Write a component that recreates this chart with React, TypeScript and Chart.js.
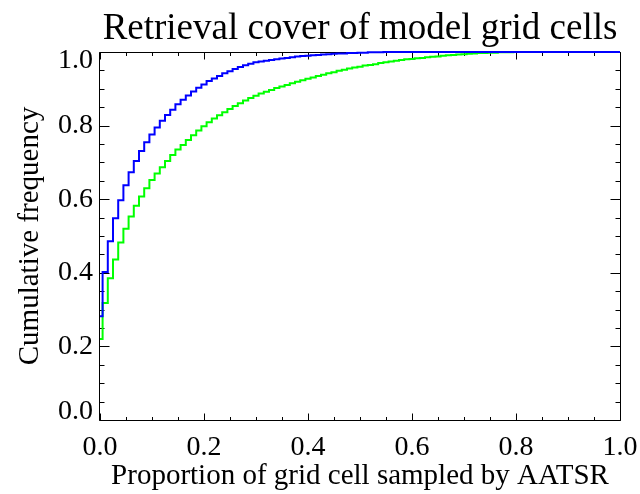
import React, { useEffect, useRef } from 'react';
import { Chart, registerables } from 'chart.js';

Chart.register(...registerables);

const chartTitle = 'Retrieval cover of model grid cells';
const xAxisTitle = 'Proportion of grid cell sampled by AATSR';
const yAxisTitle = 'Cumulative frequency';

// Histogram bins: proportion sampled, 0.00 .. 1.00 in steps of 0.01
const binWidth = 0.01;

// Cumulative frequency, blue series (one value per bin)
const blueCumulative = [
  0.282, 0.402, 0.486, 0.548, 0.597, 0.638, 0.673, 0.704, 0.731, 0.755,
  0.776, 0.795, 0.813, 0.829, 0.843, 0.858, 0.870, 0.882, 0.893, 0.903,
  0.912, 0.921, 0.928, 0.935, 0.942, 0.948, 0.954, 0.959, 0.964, 0.968,
  0.972, 0.974, 0.976, 0.978, 0.980, 0.982, 0.984, 0.986, 0.988, 0.989,
  0.990, 0.991, 0.992, 0.993, 0.994, 0.995, 0.996, 0.996, 0.997, 0.997,
  0.998, 0.998, 0.999, 0.999, 0.999, 1, 1, 1, 1, 1,
  1, 1, 1, 1, 1, 1, 1, 1, 1, 1,
  1, 1, 1, 1, 1, 1, 1, 1, 1, 1,
  1, 1, 1, 1, 1, 1, 1, 1, 1, 1,
  1, 1, 1, 1, 1, 1, 1, 1, 1, 1,
  1,
];

// Cumulative frequency, green series (one value per bin)
const greenCumulative = [
  0.220, 0.318, 0.385, 0.436, 0.482, 0.520, 0.553, 0.582, 0.607, 0.630,
  0.652, 0.670, 0.687, 0.704, 0.720, 0.735, 0.747, 0.761, 0.774, 0.787,
  0.798, 0.809, 0.819, 0.828, 0.836, 0.845, 0.853, 0.861, 0.868, 0.875,
  0.881, 0.887, 0.892, 0.897, 0.902, 0.906, 0.910, 0.915, 0.919, 0.923,
  0.927, 0.931, 0.935, 0.938, 0.942, 0.945, 0.949, 0.952, 0.955, 0.958,
  0.960, 0.963, 0.965, 0.967, 0.970, 0.972, 0.974, 0.976, 0.978, 0.980,
  0.981, 0.983, 0.984, 0.986, 0.987, 0.988, 0.990, 0.991, 0.992, 0.993,
  0.994, 0.995, 0.996, 0.997, 0.997, 0.998, 0.998, 0.999, 0.999, 0.999,
  1, 1, 1, 1, 1, 1, 1, 1, 1, 1,
  1, 1, 1, 1, 1, 1, 1, 1, 1, 1,
  1,
];

const axisMin = 0;
const axisMax = 1;
const majorStep = 0.2;
const minorStep = 0.05;

const FONT = "'Liberation Serif', 'Times New Roman', Times, serif";

const toPoints = (values: number[]) => values.map((v, i) => ({ x: i * binWidth, y: v }));

const frameTicksPlugin = {
  id: 'frameTicks',
  beforeDatasetsDraw(chart: any) {
    const { ctx, chartArea, scales } = chart;
    const { left, right, top, bottom } = chartArea;
    const xs = scales.x;
    const ys = scales.y;
    ctx.save();
    ctx.strokeStyle = '#000';
    ctx.lineWidth = 1;
    const L = Math.round(left) - 0.5;
    const R = Math.round(right) + 0.5;
    const T = Math.round(top) + 0.5;
    const B = Math.round(bottom) + 0.5;
    ctx.beginPath();
    ctx.moveTo(L, T);
    ctx.lineTo(R, T);
    ctx.lineTo(R, B);
    ctx.lineTo(L, B);
    ctx.closePath();
    ctx.stroke();
    const n = Math.round((axisMax - axisMin) / minorStep);
    const per = Math.round(majorStep / minorStep);
    ctx.beginPath();
    for (let i = 0; i <= n; i++) {
      const v = axisMin + i * minorStep;
      const major = i % per === 0;
      const px = Math.round(xs.getPixelForValue(v)) + 0.5;
      const xl = major ? 7 : 3.5;
      ctx.moveTo(px, B);
      ctx.lineTo(px, B - xl);
      ctx.moveTo(px, T);
      ctx.lineTo(px, T + xl);
      const py = Math.round(ys.getPixelForValue(v)) + 0.5;
      const yl = major ? 10 : 5;
      ctx.moveTo(L, py);
      ctx.lineTo(L + yl, py);
      ctx.moveTo(R, py);
      ctx.lineTo(R - yl, py);
    }
    ctx.stroke();
    ctx.restore();
  },
};

export default function App() {
  const canvasRef = useRef<HTMLCanvasElement | null>(null);

  useEffect(() => {
    const canvas = canvasRef.current;
    if (!canvas) return;
    Chart.defaults.color = '#000';
    const chart = new Chart(canvas, {
      type: 'line',
      data: {
        datasets: [
          {
            label: 'blue',
            data: toPoints(blueCumulative),
            borderColor: '#0000ff',
            backgroundColor: '#0000ff',
            borderWidth: 2,
            pointRadius: 0,
            stepped: 'middle',
            fill: false,
            clip: false as any,
          },
          {
            label: 'green',
            data: toPoints(greenCumulative),
            borderColor: '#00ff00',
            backgroundColor: '#00ff00',
            borderWidth: 2,
            pointRadius: 0,
            stepped: 'middle',
            fill: false,
            clip: false as any,
          },
        ],
      },
      options: {
        responsive: false,
        animation: false,
        devicePixelRatio: 1,
        layout: { padding: { left: 0, right: 20, top: 0, bottom: 0 } },
        plugins: {
          legend: { display: false },
          tooltip: { enabled: false },
          title: {
            display: true,
            text: chartTitle,
            fullSize: false,
            color: '#000',
            font: { family: FONT, size: 37, weight: 'normal', lineHeight: 1.2 },
            padding: { top: 7, bottom: 0.6 },
          },
        },
        scales: {
          x: {
            type: 'linear',
            min: axisMin,
            max: axisMax,
            grid: { display: false, drawTicks: false },
            border: { display: false },
            ticks: {
              stepSize: majorStep,
              padding: 10.7,
              color: '#000',
              maxRotation: 0,
              autoSkip: false,
              font: { family: FONT, size: 28, lineHeight: 1.2 },
              callback: (v: any) => Number(v).toFixed(1),
            },
            title: {
              display: true,
              text: xAxisTitle,
              color: '#000',
              font: { family: FONT, size: 29, lineHeight: 1.2 },
              padding: { top: 0, bottom: 0 },
            },
            afterFit: (scale: any) => {
              scale.height = 74;
              scale.paddingLeft = 0;
              scale.paddingRight = 20;
            },
          },
          y: {
            type: 'linear',
            min: axisMin,
            max: axisMax,
            grid: { display: false, drawTicks: false },
            border: { display: false },
            ticks: {
              stepSize: majorStep,
              padding: 7,
              color: '#000',
              autoSkip: false,
              font: (c: any) => {
                const v = c && c.tick ? c.tick.value : null;
                const edge = v === axisMin || v === axisMax;
                return { family: FONT, size: 28, lineHeight: edge ? 0.6 : 1.2 };
              },
              callback: (v: any) => {
                const s = Number(v).toFixed(1);
                if (v === axisMax) return ['', s];
                if (v === axisMin) return [s, ''];
                return s;
              },
            },
            title: {
              display: true,
              text: yAxisTitle,
              color: '#000',
              font: { family: FONT, size: 29, lineHeight: 1.2 },
              padding: { top: 12.6, bottom: 0 },
            },
            afterFit: (scale: any) => {
              scale.width = 100;
            },
          },
        },
      },
      plugins: [frameTicksPlugin],
    });
    return () => chart.destroy();
  }, []);

  return (
    <div style={{ position: 'absolute', left: 0, top: 0, width: 640, height: 494, background: '#fff' }}>
      <canvas ref={canvasRef} width={640} height={494} style={{ display: 'block' }} />
    </div>
  );
}
